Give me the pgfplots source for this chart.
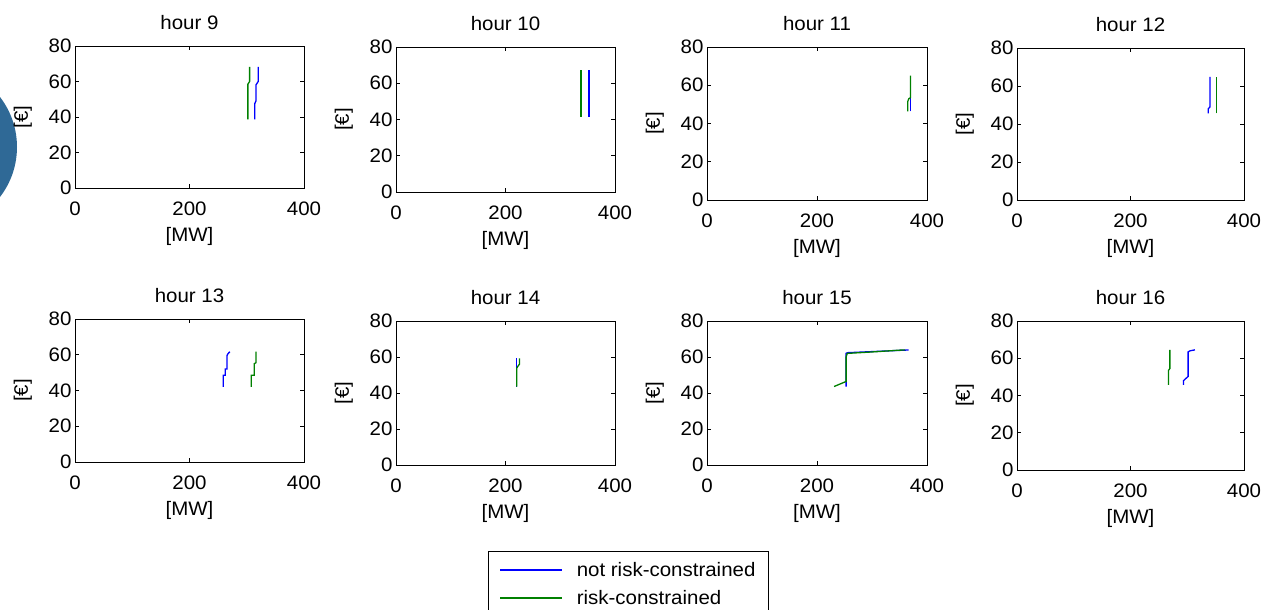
\documentclass[border=0pt]{standalone}
\usepackage{fontspec}
\setmainfont{Liberation Sans}[FakeStretch=1.05]
\usepackage{pgfplots}
\pgfplotsset{compat=1.18}
\definecolor{blobcol}{RGB}{47,105,150}
\definecolor{mblue}{RGB}{0,0,255}
\definecolor{mgreen}{RGB}{0,128,0}
\newcommand\ff{\fontsize{19.5}{23}\selectfont}
\pgfplotsset{
  panel/.style={
    scale only axis,
    xmin=0, xmax=400, ymin=0, ymax=80,
    xtick={0,200,400}, ytick={0,20,40,60,80},
    tick align=inside, major tick length=4pt,
    axis line style={line width=0.8pt},
    every tick/.style={line width=0.6pt, black},
    xlabel={[MW]}, ylabel={[€]},
    /pgf/number format/assume math mode=true,
    tick label style={font=\ff},
    label style={font=\ff},
    title style={font=\ff, yshift=7pt},
    xticklabel style={yshift=-10pt},
    xlabel style={yshift=-5pt},
    ylabel style={yshift=10pt},
    every axis plot/.append style={line width=1.3pt},
  },
}
\begin{document}
\begin{tikzpicture}
\path[use as bounding box] (0,0) rectangle (1279pt,610pt);
\clip (0,0) rectangle (1279pt,610pt);
\fill[blobcol] (-65pt,463pt) circle (82pt);

% hour 9
\begin{axis}[panel, at={(75pt,422pt)}, anchor=south west, width=229pt, height=142pt, title={hour 9}]
\addplot[mblue] coordinates {(314,38.7) (314,47.5) (316,49) (316,58) (320,60) (320,68.3)};
\addplot[mgreen] coordinates {(302,38.7) (302,58.5) (305,60) (305,68.3)};
\end{axis}
% hour 10
\begin{axis}[panel, at={(396pt,418pt)}, anchor=south west, width=219pt, height=145pt, title={hour 10}]
\addplot[mblue] coordinates {(352.5,41.5) (352.5,67.2)};
\addplot[mgreen] coordinates {(338,41.5) (338,67.2)};
\end{axis}
% hour 11
\begin{axis}[panel, at={(707pt,410pt)}, anchor=south west, width=220pt, height=153pt, title={hour 11}]
\addplot[mblue] coordinates {(370.5,46.4) (370.5,65)};
\addplot[mgreen] coordinates {(365,46.4) (365,51.5) (367,53) (370,53.5) (370,65)};
\end{axis}
% hour 12
\begin{axis}[panel, at={(1017pt,410pt)}, anchor=south west, width=227pt, height=152pt, title={hour 12}]
\addplot[mblue] coordinates {(337,45.6) (337,48) (340,49) (340,64.8)};
\addplot[mgreen] coordinates {(351,45.6) (351,64.8)};
\end{axis}
% hour 13
\begin{axis}[panel, at={(75pt,148pt)}, anchor=south west, width=229pt, height=143pt, title={hour 13}]
\addplot[mblue] coordinates {(259,42) (259,48.5) (262.5,48.5) (262.5,52) (265.5,52) (265.5,59.5) (267,60.5) (270.5,61.7)};
\addplot[mgreen] coordinates {(308,42) (308,48.5) (313,48.5) (313,55) (316,55.5) (316,61.7)};
\end{axis}
% hour 14
\begin{axis}[panel, at={(396pt,145pt)}, anchor=south west, width=219pt, height=144pt, title={hour 14},
  legend style={at={(axis description cs:0.42,-0.597)}, anchor=north west, draw=black, line width=0.8pt,
    font=\ff, inner xsep=11pt, inner ysep=9pt, row sep=8pt, column sep=12pt,
    nodes={inner sep=2pt}},
  legend cell align=left,
  legend image code/.code={\draw[#1, line width=1.4pt] (0pt,0pt) -- (62pt,0pt);}]
\addplot[mblue] coordinates {(220.4,43.5) (220.4,59.3)};
\addlegendentry{not risk-constrained}
\addplot[mgreen] coordinates {(220.4,43.5) (220.4,53.7) (223,55) (225.5,56) (225.5,59.3)};
\addlegendentry{risk-constrained}
\end{axis}
% hour 15
\begin{axis}[panel, at={(707pt,145pt)}, anchor=south west, width=220pt, height=144pt, title={hour 15}]
\addplot[mblue] coordinates {(252.9,43.6) (252.9,62) (255.3,62.4) (300,63) (366.6,63.9)};
\addplot[mgreen] coordinates {(231,43.6) (252.9,46.4) (252.9,60) (255,62) (300,62.8) (350,63.8) (360,63.9)};
\end{axis}
% hour 16
\begin{axis}[panel, at={(1017pt,140pt)}, anchor=south west, width=227pt, height=149pt, title={hour 16}]
\addplot[mblue] coordinates {(293.5,45.7) (293.5,48) (297,49) (301.5,50.2) (301.5,63.4) (305,64) (313.5,64.5)};
\addplot[mgreen] coordinates {(267,45.7) (267,53.5) (269.4,54.5) (269.4,64.5)};
\end{axis}
\end{tikzpicture}
\end{document}
